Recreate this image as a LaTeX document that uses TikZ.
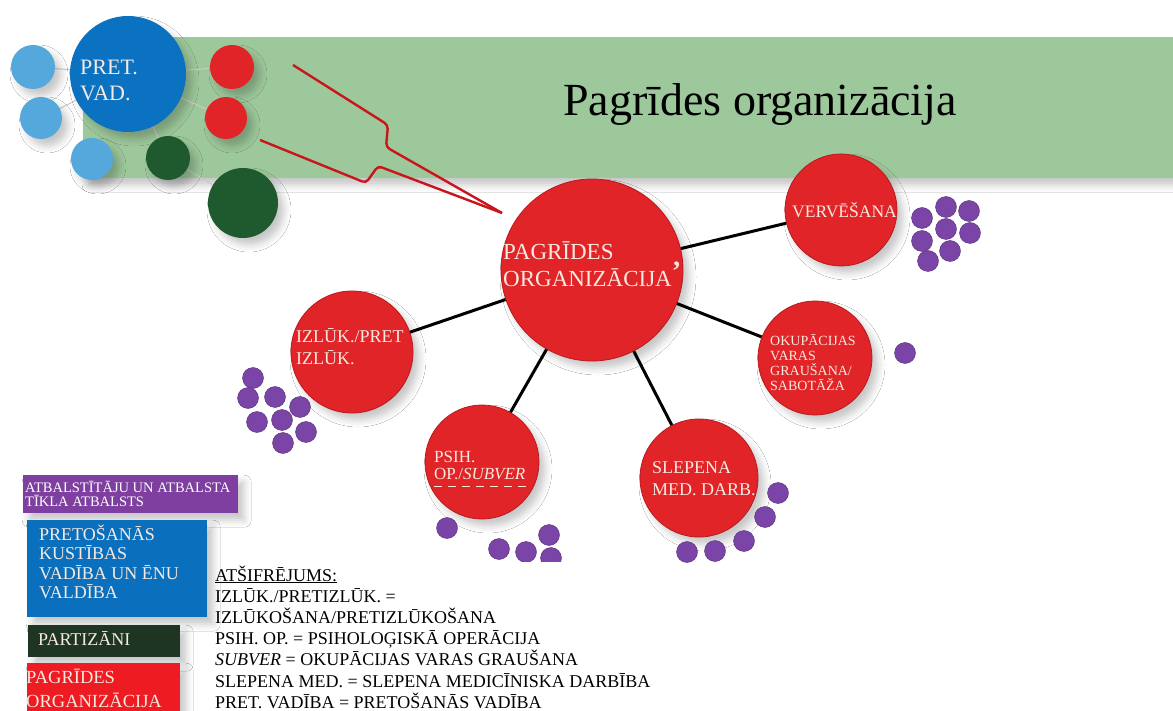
\documentclass[tikz,border=0pt]{standalone}
\usepackage{fontspec}
\setmainfont{Liberation Serif}
\usetikzlibrary{shadows.blur}
\definecolor{banner}{HTML}{9DC89B}
\definecolor{bigblue}{HTML}{0B72C2}
\definecolor{ltblue}{HTML}{55A8DC}
\definecolor{redball}{HTML}{E02428}
\definecolor{rededge}{HTML}{B81A1E}
\definecolor{dkgreen}{HTML}{1F5A2F}
\definecolor{dots}{HTML}{7A45A6}
\definecolor{cream}{HTML}{F7E9DF}
\definecolor{legpurple}{HTML}{7E3FA0}
\definecolor{legblue}{HTML}{0A70BE}
\definecolor{legdkgreen}{HTML}{1F3524}
\definecolor{legred}{HTML}{EE1B22}
\definecolor{wirered}{HTML}{C8161C}
\begin{document}
\begin{tikzpicture}[x=1pt,y=-1pt,
  ball/.style={circle,inner sep=0pt,minimum size=#1},
  shad/.style={blur shadow={shadow xshift=6pt,shadow yshift=-7pt,shadow blur radius=7pt,shadow opacity=22}},
  redb/.style={ball=#1,fill=redball,draw=rededge,line width=0.8pt,shad},
  dot/.style={circle,inner sep=0pt,minimum size=21pt,fill=dots,draw=dots!70!black,line width=0.4pt},
  txt/.style={anchor=base west,inner sep=0pt,text=cream},
  conn/.style={line width=3pt,black},
  faint/.style={line width=1pt,gray!40},
  wire/.style={line width=2.4pt,wirered,rounded corners=4pt},
  legbox/.style={anchor=north west,inner sep=0pt,shad},
  legtxt/.style={anchor=base west,inner sep=0pt,text=black}]
\useasboundingbox (0,0) rectangle (1173,711);
\fill[white] (0,0) rectangle (1173,711);

% banner
\node[legbox,fill=banner,minimum width=1090pt,minimum height=141pt] (banner) at (83,37) {};
\node[anchor=base,inner sep=0pt,font=\fontsize{46}{50}\selectfont] (title) at (760,116) {Pagrīdes organizācija};

% top-left cluster
\draw[faint] (128,74) -- (33,67);
\draw[faint] (128,74) -- (41,118);
\draw[faint] (128,74) -- (232,67);
\draw[faint] (128,74) -- (226,118);
\draw[faint] (128,74) -- (168,158);
\draw[faint] (168,158) -- (243,203);
\node[ball=116pt,fill=bigblue,shad] (pv) at (128,74) {};
\node[ball=44pt,fill=ltblue,shad] (lb1) at (33,67) {};
\node[ball=42pt,fill=ltblue,shad] (lb2) at (41,118) {};
\node[ball=42pt,fill=ltblue,shad] (lb3) at (92,159) {};
\node[ball=44pt,fill=redball,shad] (r1) at (232,67) {};
\node[ball=42pt,fill=redball,shad] (r2) at (226,118) {};
\node[ball=44pt,fill=dkgreen,shad] (g1) at (168,158) {};
\node[ball=70pt,fill=dkgreen,shad] (g2) at (243,203) {};
\node[txt,font=\fontsize{22}{24}\selectfont] (pvt1) at (80,75) {PRET.};
\node[txt,font=\fontsize{22}{24}\selectfont] (pvt2) at (80,101) {VAD.};

% central structure
\node[redb=182pt] (c) at (592,270) {};
\node[redb=112pt] (verv) at (841,210) {};
\node[redb=114pt] (okup) at (815,358) {};
\node[redb=122pt] (izl) at (352,352) {};
\node[redb=114pt] (psih) at (482,462) {};
\node[redb=118pt] (slep) at (699,478) {};

\draw[conn] (c) -- (verv);
\draw[conn] (c) -- (okup);
\draw[conn] (c) -- (izl);
\draw[conn] (c) -- (psih);
\draw[conn] (c) -- (slep);

\coordinate (wend) at (502,213);
\draw[wire] (293,65) -- (388,125) -- (386,147) -- (wend);
\draw[wire] (260,140) -- (366,183) -- (378,166) -- (wend);

\node[txt,font=\fontsize{23}{25}\selectfont] (ct1) at (503,260) {PAGRĪDES};
\node[txt,font=\fontsize{23}{25}\selectfont] (ct2) at (503,287) {ORGANIZĀCIJA\raisebox{6pt}{\fontsize{28}{28}\selectfont\bfseries ’}};
\node[txt,font=\fontsize{17.5}{19}\selectfont] (vt) at (792,218) {VERVĒŠANA};
\node[txt,font=\fontsize{14}{15}\selectfont] (ot1) at (770,345) {OKUPĀCIJAS};
\node[txt,font=\fontsize{14}{15}\selectfont] (ot2) at (770,360) {VARAS};
\node[txt,font=\fontsize{14}{15}\selectfont] (ot3) at (770,375) {GRAUŠANA/};
\node[txt,font=\fontsize{14}{15}\selectfont] (ot4) at (770,390) {SABOTĀŽA};
\node[txt,font=\fontsize{18}{20}\selectfont] (it1) at (296,342) {IZLŪK./PRET};
\node[txt,font=\fontsize{18}{20}\selectfont] (it2) at (296,364) {IZLŪK.};
\node[txt,font=\fontsize{17}{19}\selectfont] (pt1) at (434,462) {PSIH.};
\node[txt,font=\fontsize{17}{19}\selectfont] (pt2) at (434,479) {OP./\textit{SUBVER}};
\draw[cream,line width=1pt,dash pattern=on 8pt off 6pt] (434,486) -- (526,486);
\node[txt,font=\fontsize{18}{20}\selectfont] (st1) at (652,473) {SLEPENA};
\node[txt,font=\fontsize{18}{20}\selectfont] (st2) at (652,495) {MED. DARB.};

% purple dots
\foreach \p [count=\i] in {(922,218),(946,207),(969,211),(946,229),(970,233),(922,241),(950,251),(928,261)}
  \node[dot] (vd\i) at \p {};
\node[dot] (od1) at (905,353) {};
\foreach \p [count=\i] in {(253,378),(275,397),(248,398),(300,407),(282,420),(257,422),(306,432),(283,443)}
  \node[dot] (id\i) at \p {};
\foreach \p [count=\i] in {(447,528),(499,549),(526,552),(549,535),(551,558)}
  \node[dot] (pd\i) at \p {};
\foreach \p [count=\i] in {(778,493),(765,517),(744,541),(715,551),(687,552)}
  \node[dot] (sd\i) at \p {};

% legend area
\fill[white] (205,562) rectangle (660,711);
\node[legbox,fill=legpurple,minimum width=215pt,minimum height=38pt] (bpurple) at (23,475) {};
\node[txt,text=white,font=\fontsize{14.5}{15}\selectfont] (bp1) at (25,492) {ATBALSTĪTĀJU UN ATBALSTA};
\node[txt,text=white,font=\fontsize{14.5}{15}\selectfont] (bp2) at (25,506) {TĪKLA ATBALSTS};
\node[legbox,fill=legblue,minimum width=180pt,minimum height=97pt] (bblue) at (27,520) {};
\node[txt,font=\fontsize{18}{20}\selectfont] (bb1) at (39,540) {PRETOŠANĀS};
\node[txt,font=\fontsize{18}{20}\selectfont] (bb2) at (39,559.5) {KUSTĪBAS};
\node[txt,font=\fontsize{18}{20}\selectfont] (bb3) at (39,579) {VADĪBA UN ĒNU};
\node[txt,font=\fontsize{18}{20}\selectfont] (bb4) at (39,598.5) {VALDĪBA};
\node[legbox,fill=legdkgreen,minimum width=152pt,minimum height=32pt] (bgreen) at (28,625) {};
\node[txt,font=\fontsize{18}{20}\selectfont] (bg1) at (38,645) {PARTIZĀNI};
\node[legbox,fill=legred,minimum width=153pt,minimum height=50pt] (bred) at (27,663) {};
\node[txt,font=\fontsize{18.5}{20}\selectfont] (br1) at (26,683) {PAGRĪDES};
\node[txt,font=\fontsize{18.5}{20}\selectfont] (br2) at (26,707) {ORGANIZĀCIJA};

\foreach \t [count=\i] in {{\underline{ATŠIFRĒJUMS:}},{IZLŪK./PRETIZLŪK. =},{IZLŪKOŠANA/PRETIZLŪKOŠANA},{PSIH. OP. = PSIHOLOĢISKĀ OPERĀCIJA},{\textit{SUBVER} = OKUPĀCIJAS VARAS GRAUŠANA},{SLEPENA MED. = SLEPENA MEDICĪNISKA DARBĪBA},{PRET. VADĪBA = PRETOŠANĀS VADĪBA}}
  \node[legtxt,font=\fontsize{18}{21}\selectfont] (leg\i) at (215,{581+21.2*(\i-1)}) {\t};
\end{tikzpicture}
\end{document}
